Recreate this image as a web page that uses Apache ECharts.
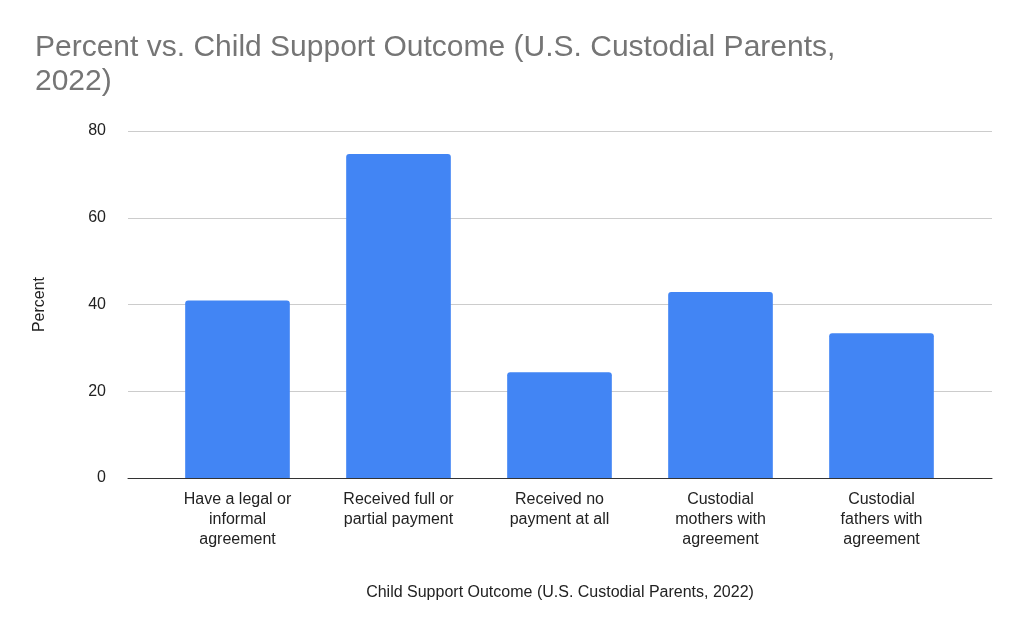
<!DOCTYPE html>
<html>
<head>
<meta charset="utf-8">
<script src="https://cdn.jsdelivr.net/npm/echarts@6/dist/echarts.min.js"></script>
<style>
  html, body { margin: 0; padding: 0; background: #fff; }
  #main { width: 1024px; height: 633px; }
</style>
</head>
<body>
<div id="main"></div>
<script>
  // categories and values
  const categories = [
    "Have a legal or\ninformal\nagreement",
    "Received full or\npartial payment",
    "Received no\npayment at all",
    "Custodial\nmothers with\nagreement",
    "Custodial\nfathers with\nagreement"
  ];
  const percents = [40.9, 74.7, 24.4, 42.9, 33.4];

  const font = "'Liberation Sans', Arial, sans-serif";
  const chart = echarts.init(document.getElementById("main"));
  chart.setOption({
    animation: false,
    textStyle: { fontFamily: font },
    title: {
      text: "Percent vs. Child Support Outcome (U.S. Custodial Parents,\n2022)",
      left: 30,
      top: 26,
      textStyle: { color: "#757575", fontSize: 30, fontWeight: "normal", lineHeight: 34, fontFamily: font }
    },
    // grid 0: full-width frame with gridlines; grid 1: narrower area holding the bars
    grid: [
      { left: 128, right: 32, top: 131, bottom: 155 },
      { left: 157, right: 62, top: 131, bottom: 155 }
    ],
    xAxis: [{
      type: "category",
      gridIndex: 0,
      data: [""],
      name: "Child Support Outcome (U.S. Custodial Parents, 2022)",
      nameLocation: "middle",
      nameGap: 107,
      nameTextStyle: { color: "#222", fontSize: 16 },
      axisTick: { show: false },
      axisLabel: { show: false },
      axisLine: { lineStyle: { color: "#333" } }
    }, {
      type: "category",
      gridIndex: 1,
      data: categories,
      axisTick: { show: false },
      axisLine: { show: false },
      axisLabel: { color: "#222", fontSize: 16, lineHeight: 20, margin: 12 }
    }],
    yAxis: [{
      type: "value",
      gridIndex: 0,
      min: 0,
      max: 80,
      interval: 20,
      name: "Percent",
      nameLocation: "middle",
      nameGap: 80,
      nameTextStyle: { color: "#222", fontSize: 16 },
      axisLabel: { color: "#222", fontSize: 16, margin: 22 },
      splitLine: { lineStyle: { color: "#ccc" } }
    }, {
      type: "value",
      gridIndex: 1,
      min: 0,
      max: 80,
      interval: 20,
      axisLabel: { show: false },
      splitLine: { show: false }
    }],
    series: [{
      type: "bar",
      xAxisIndex: 1,
      yAxisIndex: 1,
      data: percents,
      barCategoryGap: "35%",
      itemStyle: { color: "#4285f4", borderRadius: [3, 3, 0, 0] }
    }]
  });
</script>
</body>
</html>
